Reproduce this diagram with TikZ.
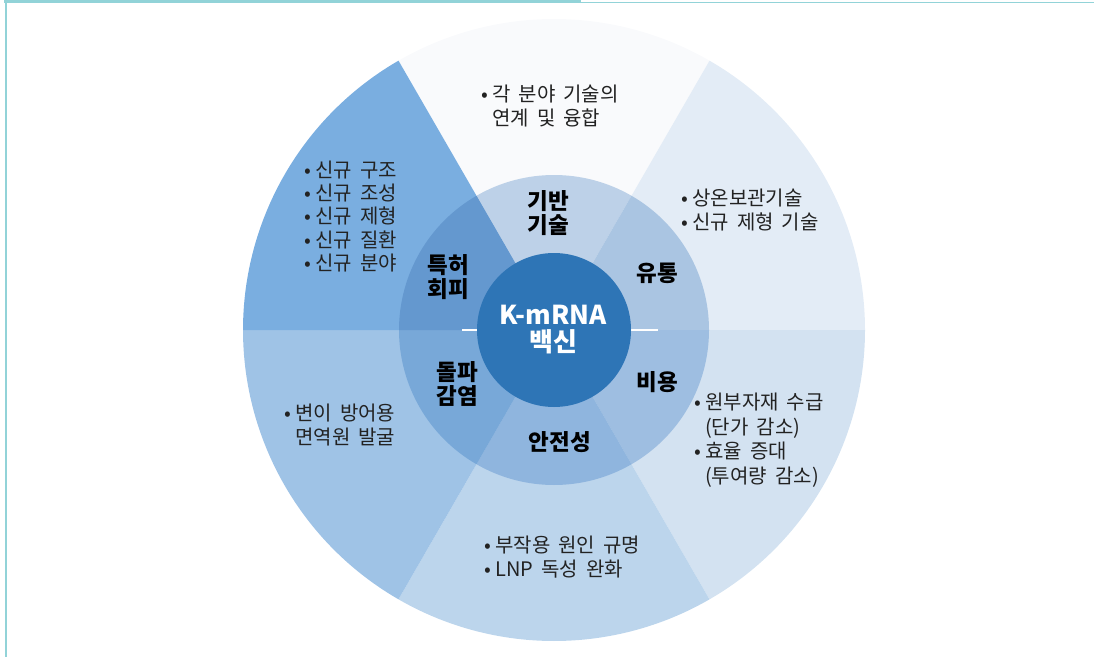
\documentclass[tikz,border=0pt]{standalone}
\usepackage{fontspec}
\setmainfont{Noto Sans CJK KR}[WordSpace=1.8]
\definecolor{frameC}{HTML}{92D3D8}
\definecolor{oA}{HTML}{F9FAFC}
\definecolor{oB}{HTML}{E3ECF6}
\definecolor{oC}{HTML}{D3E2F1}
\definecolor{oD}{HTML}{BCD5EC}
\definecolor{oE}{HTML}{9FC3E6}
\definecolor{oF}{HTML}{7AAEE0}
\definecolor{rA}{HTML}{BDD1E8}
\definecolor{rB}{HTML}{AAC5E2}
\definecolor{rC}{HTML}{9EBEE1}
\definecolor{rD}{HTML}{8FB5DE}
\definecolor{rE}{HTML}{78A8D8}
\definecolor{rF}{HTML}{6498CF}
\definecolor{coreC}{HTML}{2E75B6}
\definecolor{txt}{HTML}{222222}
\newcommand\bl{\makebox[0.55em][l]{•}}
\newcommand\ind{\hspace*{0.55em}}
\tikzset{
  outertext/.style={anchor=west, inner sep=0pt, align=left, text=txt, font=\fontsize{20}{24}\selectfont},
  ringtext/.style={anchor=center, inner sep=0pt, align=center, text=black, font=\fontsize{22.5}{24}\selectfont\bfseries},
  coretext/.style={anchor=center, inner sep=0pt, align=center, text=white, font=\fontsize{26}{27}\selectfont\bfseries},
}
\begin{document}
\begin{tikzpicture}[x=1pt,y=1pt]
\useasboundingbox (0,0) rectangle (1094,657);
% frame
\fill[frameC] (4,654) rectangle (581,657);
\fill[frameC] (581,653.5) rectangle (1094,655);
\fill[frameC] (5,0) rectangle (7,657);
% outer sectors
\coordinate (c) at (554,327);
\fill[oA] (c) -- ++(60:311) arc[start angle=60,end angle=120,radius=311] -- cycle;
\fill[oB] (c) -- ++(0:311) arc[start angle=0,end angle=60,radius=311] -- cycle;
\fill[oC] (c) -- ++(-60:311) arc[start angle=-60,end angle=0,radius=311] -- cycle;
\fill[oD] (c) -- ++(-120:311) arc[start angle=-120,end angle=-60,radius=311] -- cycle;
\fill[oE] (c) -- ++(180:311) arc[start angle=180,end angle=240,radius=311] -- cycle;
\fill[oF] (c) -- ++(120:311) arc[start angle=120,end angle=180,radius=311] -- cycle;
% ring sectors
\fill[rA] (c) -- ++(60:155) arc[start angle=60,end angle=120,radius=155] -- cycle;
\fill[rB] (c) -- ++(0:155) arc[start angle=0,end angle=60,radius=155] -- cycle;
\fill[rC] (c) -- ++(-60:155) arc[start angle=-60,end angle=0,radius=155] -- cycle;
\fill[rD] (c) -- ++(-120:155) arc[start angle=-120,end angle=-60,radius=155] -- cycle;
\fill[rE] (c) -- ++(180:155) arc[start angle=180,end angle=240,radius=155] -- cycle;
\fill[rF] (c) -- ++(120:155) arc[start angle=120,end angle=180,radius=155] -- cycle;
% white ticks
\coordinate (tl1) at (462,327);
\coordinate (tl2) at (477,327);
\coordinate (tr1) at (631,327);
\coordinate (tr2) at (658,327);
\draw[white, line width=1.5pt] (tl1) -- (tl2);
\draw[white, line width=1.5pt] (tr1) -- (tr2);
% core
\node[circle, fill=coreC, minimum size=154pt, inner sep=0pt] (core) at (c) {};
\node[coretext] (coreLabel) at (553,327) {K-mRNA\\백신};
% ring labels
\node[ringtext] (rTop) at (548,444) {기반\\기술};
\node[ringtext] (rUR) at (657,384) {유통};
\node[ringtext] (rLR) at (657,275) {비용};
\node[ringtext] (rBot) at (560,215) {안전성};
\node[ringtext] (rLL) at (457,273) {돌파\\감염};
\node[ringtext] (rUL) at (448,380) {특허\\회피};
% outer texts
\node[outertext] (tTop) at (481,550.5) {\bl 각 분야 기술의\\\ind 연계 및 융합};
\node[outertext] (tUR) at (681,446.5) {\bl 상온보관기술\\\bl 신규 제형 기술};
\node[outertext, font=\fontsize{20}{23.3}\selectfont] (tUL) at (304,440.5) {\bl 신규 구조\\\bl 신규 조성\\\bl 신규 제형\\\bl 신규 질환\\\bl 신규 분야};
\node[outertext] (tLL) at (284,232) {\bl 변이 방어용\\\ind 면역원 발굴};
\node[outertext, font=\fontsize{20}{24.5}\selectfont] (tLR) at (694,217) {\bl 원부자재 수급\\\ind (단가 감소)\\\bl 효율 증대\\\ind (투여량 감소)};
\node[outertext] (tBot) at (484,99.5) {\bl 부작용 원인 규명\\\bl LNP 독성 완화};
\end{tikzpicture}
\end{document}
